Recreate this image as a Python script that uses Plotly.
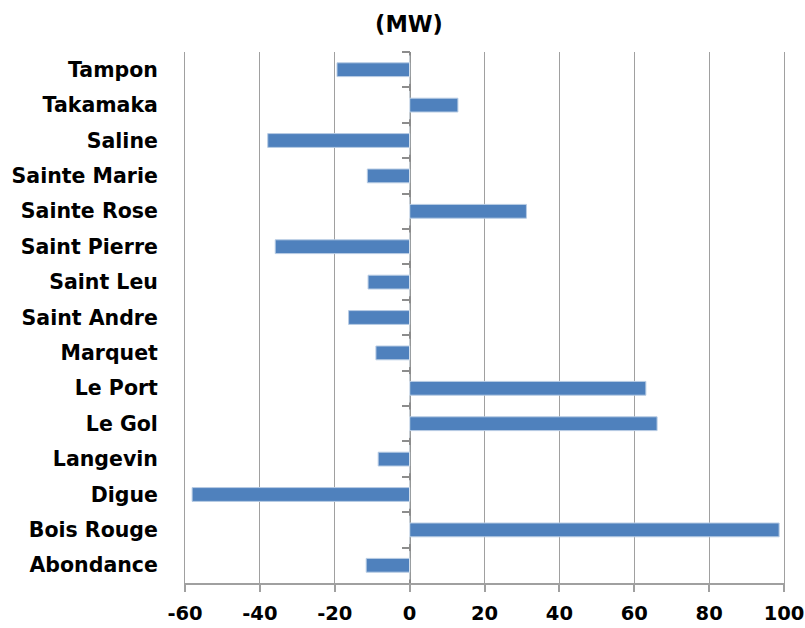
import plotly.graph_objects as go

stations = ["Tampon", "Takamaka", "Saline", "Sainte Marie", "Sainte Rose",
            "Saint Pierre", "Saint Leu", "Saint Andre", "Marquet", "Le Port",
            "Le Gol", "Langevin", "Digue", "Bois Rouge", "Abondance"]
values_mw = [-19.4, 12.9, -37.9, -11.3, 31.2,
             -35.9, -11.1, -16.3, -9.0, 63.1,
             66.1, -8.4, -58.1, 98.7, -11.6]
x_ticks = [-60, -40, -20, 0, 20, 40, 60, 80, 100]

FONT = "'DejaVu Sans', sans-serif"
x_min, x_max = x_ticks[0], x_ticks[-1]
zero_pos = (0 - x_min) / (x_max - x_min)

fig = go.Figure()
fig.add_trace(go.Bar(
    y=stations, x=values_mw, orientation="h",
    marker=dict(color="#4F81BD", line=dict(color="#b8cce4", width=1)),
    width=0.39, showlegend=False, hoverinfo="x+y",
))
# invisible trace to carry the category tick marks on the zero axis
fig.add_trace(go.Bar(
    y=stations, x=[0] * len(stations), orientation="h", yaxis="y2",
    marker=dict(color="rgba(0,0,0,0)"), showlegend=False, hoverinfo="skip",
))

fig.update_layout(
    width=805, height=628,
    margin=dict(l=185, r=21, t=52, b=45, autoexpand=False),
    paper_bgcolor="white", plot_bgcolor="white",
    title=dict(text="<b>(MW)</b>", x=409 / 805, xanchor="center",
               y=1 - 24 / 628, yanchor="middle",
               font=dict(family=FONT, size=22.5, color="black")),
    font=dict(family=FONT, color="black"),
    barmode="overlay",
    xaxis=dict(
        range=[x_min, x_max], tickvals=x_ticks, ticktext=[f"<b>{v}</b>" for v in x_ticks],
        automargin=False,
        showgrid=True, gridcolor="#a0a0a0", gridwidth=1,
        zeroline=True, zerolinecolor="#8c8c8c", zerolinewidth=1.5,
        showline=True, linecolor="#a0a0a0", linewidth=1.5, mirror=False,
        ticks="outside", ticklen=7, tickcolor="#a0a0a0", tickwidth=1.5,
        ticklabelstandoff=5,
        tickfont=dict(family=FONT, size=19.5, color="black"),
        fixedrange=True,
    ),
    yaxis=dict(
        categoryorder="array", categoryarray=stations, autorange="reversed",
        automargin=False,
        showgrid=False, zeroline=False,
        showline=True, mirror=True, linecolor="#a0a0a0", linewidth=1,
        ticks="",
        ticklabelstandoff=22,
        tickfont=dict(family=FONT, size=20.5, color="black"),
        tickvals=stations, ticktext=[f"<b>{s}</b>" for s in stations],
    ),
    yaxis2=dict(
        overlaying="y", anchor="free", position=zero_pos, side="left",
        categoryorder="array", categoryarray=stations, autorange="reversed",
        automargin=False,
        showticklabels=False, showgrid=False, zeroline=False, showline=False,
        ticks="outside", tickson="boundaries", ticklen=8, tickcolor="#8c8c8c", tickwidth=1.5,
    ),
)

# remove the default page margin so the figure fills the window exactly
fig.write_html("out.html",
               config={"displayModeBar": False},
               post_script="document.body.style.margin='0px';document.body.style.overflow='hidden';")
